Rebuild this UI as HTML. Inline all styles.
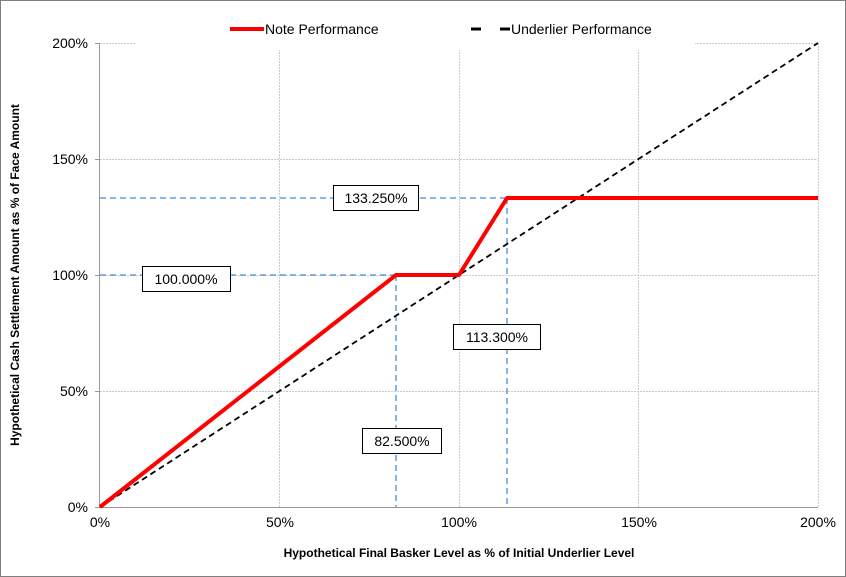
<!DOCTYPE html>
<html><head><style>
body{margin:0;background:#fff}
svg{display:block;font-family:"Liberation Sans",Arial,sans-serif}
</style></head><body>
<svg width="846" height="577" viewBox="0 0 846 577">
<rect x="0.5" y="0.5" width="845" height="576" fill="#fff" stroke="#7f7f7f"/>
<g stroke="#c8c8c8" stroke-width="1" stroke-dasharray="2,1">
<line x1="100" y1="43.5" x2="818" y2="43.5"/>
<line x1="100" y1="159.5" x2="818" y2="159.5"/>
<line x1="100" y1="275.5" x2="818" y2="275.5"/>
<line x1="100" y1="391.5" x2="818" y2="391.5"/>
<line x1="279.5" y1="43" x2="279.5" y2="507"/>
<line x1="459.5" y1="43" x2="459.5" y2="507"/>
<line x1="638.5" y1="43" x2="638.5" y2="507"/>
<line x1="818.5" y1="43" x2="818.5" y2="507"/>
</g>
<rect x="135" y="15" width="560" height="35" fill="#fff"/>
<g stroke="#999" stroke-width="1">
<line x1="99.5" y1="43" x2="99.5" y2="507"/>
<line x1="99.5" y1="507.5" x2="818" y2="507.5"/>
<line x1="95" y1="43.5" x2="100" y2="43.5"/><line x1="95" y1="159.5" x2="100" y2="159.5"/>
<line x1="95" y1="275.5" x2="100" y2="275.5"/><line x1="95" y1="391.5" x2="100" y2="391.5"/>
<line x1="95" y1="507.5" x2="100" y2="507.5"/>
</g>
<g stroke="#3d8fdc" stroke-width="1.3" stroke-dasharray="6,4" fill="none">
<line x1="100" y1="198" x2="507" y2="198"/>
<line x1="100" y1="275" x2="396" y2="275"/>
<line x1="396" y1="275" x2="396" y2="507"/>
<line x1="507" y1="198" x2="507" y2="507"/>
</g>
<line x1="100" y1="507" x2="818" y2="43" stroke="#000" stroke-width="1.8" stroke-dasharray="6,4"/>
<polyline points="100,507 396,275 459,275 507,198 818,198" fill="none" stroke="#ff0000" stroke-width="4" stroke-linejoin="round"/>
<g font-size="14" fill="#000" text-anchor="middle">
<rect x="333.5" y="185.5" width="85" height="25" fill="#fff" stroke="#000"/><text x="376" y="203">133.250%</text>
<rect x="142.5" y="266.5" width="88" height="25" fill="#fff" stroke="#000"/><text x="186" y="284">100.000%</text>
<rect x="453.5" y="324.5" width="87" height="25" fill="#fff" stroke="#000"/><text x="497" y="342">113.300%</text>
<rect x="362.5" y="428.5" width="79" height="25" fill="#fff" stroke="#000"/><text x="402" y="446">82.500%</text>
</g>
<g font-size="14" fill="#000" text-anchor="end">
<text x="88" y="48">200%</text><text x="88" y="164">150%</text><text x="88" y="280">100%</text>
<text x="88" y="396">50%</text><text x="88" y="512">0%</text>
</g>
<g font-size="14" fill="#000" text-anchor="middle">
<text x="100" y="527">0%</text><text x="280" y="527">50%</text><text x="459" y="527">100%</text>
<text x="639" y="527">150%</text><text x="818" y="527">200%</text>
</g>
<text x="459" y="557" font-size="12" font-weight="bold" text-anchor="middle">Hypothetical Final Basker Level as % of Initial Underlier Level</text>
<text transform="translate(19,275) rotate(-90)" font-size="12" font-weight="bold" text-anchor="middle">Hypothetical Cash Settlement Amount as % of Face Amount</text>
<line x1="230" y1="29" x2="264" y2="29" stroke="#ff0000" stroke-width="4"/>
<text x="265" y="34" font-size="14">Note Performance</text>
<line x1="471" y1="29" x2="481" y2="29" stroke="#000" stroke-width="3"/>
<line x1="500" y1="29" x2="510" y2="29" stroke="#000" stroke-width="3"/>
<text x="511" y="34" font-size="14">Underlier Performance</text>
</svg>
</body></html>
